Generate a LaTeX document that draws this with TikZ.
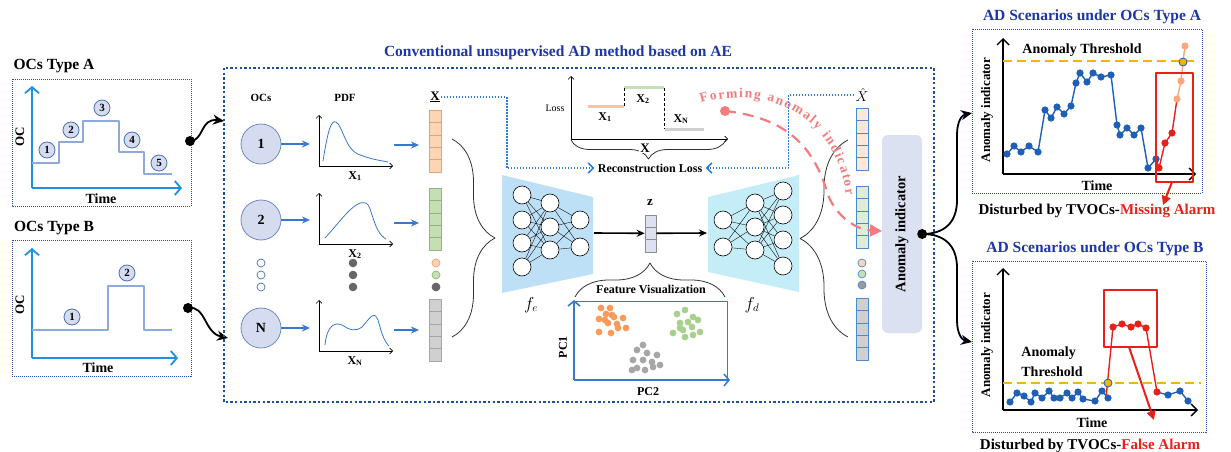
\documentclass[tikz,border=0pt]{standalone}
\usepackage{fontspec}
\setmainfont{Liberation Serif}
\usetikzlibrary{calc,positioning,decorations.pathreplacing,decorations.text,arrows.meta}
\definecolor{boxblue}{HTML}{1F4E9C}
\definecolor{ttlblue}{HTML}{1C36A8}
\definecolor{axblue}{HTML}{1E90E0}
\definecolor{stepblue}{HTML}{8EA9DB}
\definecolor{ocfill}{HTML}{D6DCF0}
\definecolor{ocline}{HTML}{4A6FB0}
\definecolor{arrblue}{HTML}{3A78D0}
\definecolor{dotblue}{HTML}{2C7BD8}
\definecolor{orfill}{HTML}{FCD5B5}
\definecolor{ordraw}{HTML}{E4A27A}
\definecolor{grfill}{HTML}{C5DFB4}
\definecolor{grdraw}{HTML}{93B57A}
\definecolor{gyfill}{HTML}{D0D0D0}
\definecolor{gydraw}{HTML}{A6A6A6}
\definecolor{encfill}{HTML}{BDE0F6}
\definecolor{decfill}{HTML}{C4EDF8}
\definecolor{zfill}{HTML}{DCE0F0}
\definecolor{aifill}{HTML}{DCE1F2}
\definecolor{salmon}{HTML}{F47C7C}
\definecolor{ptblue}{HTML}{1F5FB8}
\definecolor{ptred}{HTML}{E8201A}
\definecolor{ptpeach}{HTML}{F9A77F}
\definecolor{thryel}{HTML}{F5B400}
\definecolor{scor}{HTML}{F79A5A}
\definecolor{scgr}{HTML}{A9CF8E}
\definecolor{scgy}{HTML}{A6A6A6}
\definecolor{hatdraw}{HTML}{4A8AD0}
\newcommand{\fsz}[1]{\fontsize{#1}{#1}\selectfont}

\begin{document}
\begin{tikzpicture}[x=1pt,y=-1pt,line join=round,
    sidebox/.style={draw=boxblue,line width=0.9pt,dash pattern=on 1pt off 1pt},
    mainbox/.style={draw=boxblue,line width=2.4pt,dash pattern=on 2.4pt off 2.2pt},
    ocaxis/.style={draw=axblue,line width=1.8pt,-{Straight Barb[length=6pt,width=14pt]}},
    raxis/.style={draw=black,line width=1.4pt,-{Straight Barb[length=6pt,width=12pt]}},
    pdfax/.style={draw=black,line width=0.6pt,-{Straight Barb[length=3pt,width=6pt]}},
    stepline/.style={draw=stepblue,line width=2pt},
    ocnum/.style={circle,draw=ocline,fill=ocfill,line width=0.8pt,inner sep=0pt,minimum size=16pt,font=\fsz{11}\bfseries},
    occ/.style={circle,draw=ocline!80,fill=ocfill,line width=0.8pt,inner sep=0pt,minimum size=40pt,font=\fsz{14}\bfseries},
    smallc/.style={circle,draw=ocline,fill=white,line width=0.7pt,inner sep=0pt,minimum size=8pt},
    cell/.style={draw,line width=0.6pt,inner sep=0pt,minimum width=12pt,minimum height=12.4pt},
    neuron/.style={circle,draw=black,fill=white,line width=0.6pt,inner sep=0pt,minimum size=18pt},
    synapse/.style={draw=black,line width=0.35pt},
    bigbrace/.style={decorate,decoration={brace,amplitude=#1},draw=black!80,line width=0.8pt},
    bluearr/.style={draw=arrblue,line width=1.6pt,-{Stealth[length=8pt,width=7pt]}},
    blkarr/.style={draw=black,line width=1.6pt,-{Stealth[length=8pt,width=7pt]}},
    curvarr/.style={draw=black,line width=1.8pt,-{Stealth[length=11pt,width=10pt]}},
    recarrow/.style={draw=dotblue,line width=1.5pt,dash pattern=on 1.5pt off 1.5pt,-{Straight Barb[length=5pt,width=10pt]}},
    blob/.style={circle,fill=black,inner sep=0pt,minimum size=10pt},
    thr/.style={draw=thryel,line width=2pt,dash pattern=on 9pt off 5pt},
    ttl/.style={font=\fsz{15.5}\bfseries},
    rttl/.style={font=\fsz{15.5}\bfseries,text=ttlblue},
    lbl/.style={font=\fsz{14}\bfseries},
    hdr/.style={font=\fsz{11}\bfseries},
    xlab/.style={font=\fsz{12}\bfseries}]
    \useasboundingbox (0,0) rectangle (1231,452);

    % OCs Type A
    \node[ttl] (ttlA) at (54,66) {OCs Type A};
    \draw[sidebox] (12,79) rectangle (191,206);
    \coordinate (oA) at (32,188);
    \draw[ocaxis] (oA) -- (32,86);
    \draw[ocaxis] (oA) -- (182,188);
    \node[font=\fsz{13}\bfseries,rotate=90] at (20,137) {OC};
    \node[lbl] at (101,199) {Time};
    \draw[stepline] (32,163) -- (59,163) -- (59,142) -- (83,142) -- (83,121) -- (119,121)
        -- (119,152) -- (144,152) -- (144,174) -- (172,174);
    \foreach \n/\x/\y in {1/47/150,2/71/130,3/102/108,4/132/140,5/159/163}
        \node[ocnum] (a\n) at (\x,\y) {\n};
    \node[blob] (outA) at (190,141) {};

    % OCs Type B
    \node[ttl] (ttlB) at (54,228) {OCs Type B};
    \draw[sidebox] (12,240) rectangle (191,376);
    \coordinate (oB) at (32,358);
    \draw[ocaxis] (oB) -- (32,248);
    \draw[ocaxis] (oB) -- (178,358);
    \node[font=\fsz{13}\bfseries,rotate=90] at (20,305) {OC};
    \node[lbl] at (98,368) {Time};
    \draw[stepline] (32,330) -- (108,330) -- (108,286) -- (144,286) -- (144,330) -- (172,330);
    \node[ocnum] (b1) at (72,317) {1};
    \node[ocnum] (b2) at (127,273) {2};
    \node[blob] (outB) at (188,308) {};

    \coordinate (inA) at (224,121);
    \coordinate (inB) at (228,338);
    \draw[curvarr] (outA.center) .. controls (204,141) and (200,118) .. (inA);
    \draw[curvarr] (outB.center) .. controls (206,305) and (204,333) .. (inB);

    % AE block
    \draw[mainbox] (224,68) rectangle (934,402);
    \node[font=\fsz{15.5}\bfseries,text=ttlblue] (mttl) at (558,53)
        {Conventional unsupervised AD method based on AE};
    \node[hdr] at (261,98) {OCs};
    \node[hdr] at (345,98) {PDF};
    \node[font=\fsz{13}\bfseries,inner sep=1pt] (xlbl) at (435,97) {\underline{X}};

    \foreach \n/\y/\yp in {1/144/166,2/220/244,N/328/351} {
        \node[occ] (oc\n) at (261,\y) {\n};
        \coordinate (pin\n) at (310,\y);
        \draw[bluearr] (oc\n) -- (pin\n);
        \draw[pdfax] (319,\yp) -- (319,\yp-51);
        \draw[pdfax] (319,\yp) -- (393,\yp);
        \node[xlab] at (355,\yp+10) {X\textsubscript{\n}};
        \coordinate (pout\n) at (394,\yp-21);
        \coordinate (vin\n) at (419,\yp-21);
        \draw[bluearr] (pout\n) -- (vin\n);
    }
    \draw[arrblue,line width=0.8pt] (323,161) .. controls (328,130) and (331,120) .. (336,122)
        .. controls (343,126) and (345,150) .. (360,155) .. controls (372,159) .. (388,162);
    \draw[arrblue,line width=0.8pt] (325,238) .. controls (340,222) and (355,199) .. (366,203)
        .. controls (372,205) and (373,232) .. (386,239);
    \draw[arrblue,line width=0.8pt] (325,345) .. controls (327,325) and (335,322) .. (342,325)
        .. controls (350,330) and (355,332) .. (362,327) .. controls (370,318) and (374,310) .. (378,320)
        .. controls (381,330) and (383,340) .. (389,346);

    \foreach \y in {263,275,287} {
        \node[smallc] at (261,\y) {};
        \fill[black!60] (353,\y) circle (4.3pt);
    }
    \node[smallc,draw=ordraw,fill=orfill] at (436,263) {};
    \node[smallc,draw=grdraw,fill=grfill] at (436,275) {};
    \node[smallc,draw=black!60,fill=black!60] at (436,287) {};

    \foreach \i in {0,...,4} {
        \node[cell,draw=ordraw,fill=orfill] (v1\i) at (435,116.2+12.4*\i) {};
        \node[cell,draw=grdraw,fill=grfill] (v2\i) at (435,194.2+12.4*\i) {};
        \node[cell,draw=gydraw,fill=gyfill] (vN\i) at (435,305.2+12.4*\i) {};
        \node[cell,draw=hatdraw,fill=orfill!55] (h1\i) at (862,114.2+12.4*\i) {};
        \node[cell,draw=hatdraw,fill=grfill!55] (h2\i) at (862,192.2+12.4*\i) {};
        \node[cell,draw=hatdraw,fill=gyfill] (hN\i) at (862,304.2+12.4*\i) {};
    }
    \node[smallc,draw=hatdraw,fill=orfill] at (862,263) {};
    \node[smallc,draw=hatdraw,fill=grfill] at (862,274) {};
    \node[smallc,draw=hatdraw,fill=black!40] at (862,285) {};
    \node[font=\fsz{15},inner sep=1pt] (xhat) at (862,95) {$\hat{X}$};

    \draw[bigbrace=43pt] (452,139) -- (452,337);
    \draw[bigbrace=48pt] (848,337) -- (848,140);

    % encoder / decoder
    \fill[encfill] (502,175) -- (593,197) -- (593,274) -- (502,293) -- cycle;
    \fill[decfill] (708,197) -- (799,175) -- (799,292) -- (708,272) -- cycle;
    \foreach \y [count=\i] in {195,220,243,267} \node[neuron] (e1\i) at (522,\y) {};
    \foreach \y [count=\i] in {203,227,250} \node[neuron] (e2\i) at (550,\y) {};
    \foreach \y [count=\i] in {220,247} \node[neuron] (e3\i) at (580,\y) {};
    \foreach \y [count=\i] in {220,247} \node[neuron] (d1\i) at (723,\y) {};
    \foreach \y [count=\i] in {203,227,250} \node[neuron] (d2\i) at (755,\y) {};
    \foreach \y [count=\i] in {191,215,240,266} \node[neuron] (d3\i) at (783,\y) {};
    \foreach \a in {1,...,4} \foreach \b in {1,...,3} \draw[synapse] (e1\a) -- (e2\b);
    \foreach \a in {1,...,3} \foreach \b in {1,2} \draw[synapse] (e2\a) -- (e3\b);
    \foreach \a in {1,2} \foreach \b in {1,...,3} \draw[synapse] (d1\a) -- (d2\b);
    \foreach \a in {1,...,3} \foreach \b in {1,...,4} \draw[synapse] (d2\a) -- (d3\b);
    \node[font=\fsz{16}] at (531,305) {$f_e$};
    \node[font=\fsz{16}] at (752,305) {$f_d$};

    \foreach \i in {0,1,2}
        \node[cell,draw=black!45,fill=zfill,minimum width=11pt] (z\i) at (650.5,221+12.3*\i) {};
    \node[font=\fsz{13}\bfseries] at (650,203) {z};
    \coordinate (encout) at (594,233);
    \coordinate (decin) at (707,233);
    \draw[blkarr] (encout) -- (z1.west);
    \draw[blkarr] (z1.east) -- (decin);

    % feature visualization
    \draw[bigbrace=34pt] (575,297) -- (725,297);
    \node[xlab] (fv) at (651,289) {Feature Visualization};
    \draw[arrblue,line width=0.9pt] (574,301) -- (727,301) -- (727,378);
    \draw[draw=arrblue,line width=1.6pt,-{Straight Barb[length=5pt,width=12pt]}] (574,380) -- (574,300);
    \draw[draw=arrblue,line width=1.6pt,-{Straight Barb[length=5pt,width=12pt]}] (574,380) -- (730,380);
    \node[xlab,rotate=90] at (563,347) {PC1};
    \node[xlab] at (648,392) {PC2};
    \foreach \x/\y in {601/308,610/308,606/314,599/319,614/317,623/318,608/323,617/324,626/328,599/332,611/333,618/328,605/320,612/315}
        \fill[scor] (\x,\y) circle (3.4pt);
    \foreach \x/\y in {677/314,685/310,693/317,680/323,688/322,698/320,673/333,683/330,692/327,700/332,685/337,693/335,680/328}
        \fill[scgr] (\x,\y) circle (3.4pt);
    \foreach \x/\y in {643/345,637/350,647/353,657/355,633/360,643/360,652/362,660/365,637/368,645/370,653/367,632/370}
        \fill[scgy] (\x,\y) circle (3.4pt);

    % reconstruction loss
    \node[font=\fsz{10}] at (555,108) {Loss};
    \draw[pdfax] (571,139) -- (571,76);
    \draw[pdfax] (571,139) -- (728,139);
    \draw[orfill!90!red,line width=3pt] (588,106) -- (624,106);
    \draw[grfill,line width=3pt] (624,87) -- (664,87);
    \draw[gyfill,line width=3pt] (665,129) -- (704,129);
    \draw[densely dashed,line width=0.5pt] (624,88) -- (624,106);
    \draw[densely dashed,line width=0.5pt] (664,88) -- (664,129);
    \node[xlab] at (605,117) {X\textsubscript{1}};
    \node[xlab] at (643,99) {X\textsubscript{2}};
    \node[xlab] at (681,119) {X\textsubscript{N}};
    \draw[bigbrace=19pt] (726,140) -- (571,140);
    \node[font=\fsz{13}\bfseries,fill=white,inner sep=1pt] at (645,148) {X};
    \node[xlab] (recon) at (650,168) {Reconstruction Loss};
    \draw[recarrow] (xlbl.east) -- ++(66,0) |- (recon.west);
    \draw[recarrow] (xhat.west) -- ++(-66,0) |- (recon.east);

    % forming anomaly indicator
    \path[decorate,decoration={text along path,text color=salmon,text align={fit to path},
        text={|\fsz{13.5}\bfseries|Forming anomaly indicator}}]
        (701,103) .. controls (768,84) and (836,116) .. (846,195);
    \node[circle,fill=salmon,inner sep=0pt,minimum size=10pt] (fdot) at (725,111) {};
    \coordinate (ftip) at (882,231);
    \draw[salmon,line width=2.2pt,dash pattern=on 11pt off 7pt,-{Triangle[length=12pt,width=12pt]}]
        (fdot.center) .. controls (790,118) and (815,150) .. (828,195)
        .. controls (838,220) and (860,230) .. (ftip);

    % anomaly indicator
    \node[rounded corners=6pt,fill=aifill,rotate=90,minimum width=198pt,minimum height=40pt,
        font=\fsz{14.5}\bfseries] (ai) at (902,234) {Anomaly indicator};
    \node[blob] (aidot) at (ai.south) {};
    \coordinate (toA) at (972,113);
    \coordinate (toB) at (972,342);
    \draw[curvarr] (aidot.center) .. controls (945,234) and (957,222) .. (957,200) -- (957,135)
        .. controls (957,121) and (962,115) .. (toA);
    \draw[curvarr] (aidot.center) .. controls (945,234) and (957,246) .. (957,268) -- (957,320)
        .. controls (957,334) and (962,340) .. (toB);

    % AD scenario A
    \node[rttl] at (1092,17) {AD Scenarios under OCs Type A};
    \draw[sidebox] (972,29) rectangle (1202,193);
    \coordinate (oRA) at (1003,174);
    \draw[raxis] (oRA) -- (1003,38);
    \draw[raxis] (oRA) -- (1196,174);
    \draw[thr] (1003,61) -- (1199,61);
    \node[font=\fsz{13}\bfseries,rotate=90] at (987,110) {Anomaly indicator};
    \node[font=\fsz{14}\bfseries] at (1082,50) {Anomaly Threshold};
    \node[lbl] at (1097,186) {Time};
    \node[font=\fsz{15}\bfseries] at (1097,211) {Disturbed by TVOCs-\textcolor{ptred}{Missing Alarm}};
    \draw[ptblue,line width=1.4pt] plot coordinates {(1007,154) (1014,146) (1021,152) (1029,146)
        (1038,152) (1045,110) (1051,118) (1057,107) (1064,114) (1071,106) (1076,83) (1080,73)
        (1087,82) (1093,73) (1101,77) (1111,75) (1117,125) (1120,135) (1127,128) (1134,135)
        (1141,128) (1148,168) (1156,159)};
    \draw[ptred,line width=1.4pt] plot coordinates {(1156,159) (1159,168) (1165,143) (1172,133) (1177,99)};
    \draw[ptpeach,line width=1.4pt] plot coordinates {(1177,99) (1181,81) (1183,62) (1185,46)};
    \foreach \x/\y in {1007/154,1014/146,1021/152,1029/146,1038/152,1045/110,1051/118,1057/107,
        1064/114,1071/106,1076/83,1080/73,1087/82,1093/73,1101/77,1111/75,1117/125,1120/135,
        1127/128,1134/135,1141/128,1148/168,1156/159}
        \fill[ptblue] (\x,\y) circle (3.6pt);
    \foreach \x/\y in {1159/168,1165/143,1172/133} \fill[ptred] (\x,\y) circle (3.6pt);
    \foreach \x/\y in {1177/99,1181/81,1185/46} \fill[ptpeach] (\x,\y) circle (3.6pt);
    \filldraw[fill=thryel,draw=ptblue,line width=0.8pt] (1183,62) circle (4pt);
    \draw[ptred,line width=1.2pt] (1156,73) rectangle (1193,182);
    \draw[ptred,line width=2pt,-{Triangle[length=9pt,width=9pt]}] (1172,182) -- (1163,205);

    % AD scenario B
    \node[rttl] at (1095,249) {AD Scenarios under OCs Type B};
    \draw[sidebox] (972,261) rectangle (1206,432);
    \coordinate (oRB) at (1003,410);
    \draw[raxis] (oRB) -- (1003,268);
    \draw[raxis] (oRB) -- (1198,410);
    \draw[thr] (1003,383) -- (1201,383);
    \node[font=\fsz{13}\bfseries,rotate=90] at (987,345) {Anomaly indicator};
    \node[font=\fsz{14}\bfseries,align=left] at (1052,362) {Anomaly\\[6pt]Threshold};
    \node[lbl] at (1092,423) {Time};
    \node[font=\fsz{15}\bfseries] at (1090,446) {Disturbed by TVOCs-\textcolor{ptred}{False Alarm}};
    \draw[ptblue,line width=1.4pt] plot coordinates {(1010,402) (1017,393) (1024,396) (1031,402)
        (1035,393) (1042,398) (1049,391) (1054,398) (1060,398) (1067,393) (1072,398) (1078,392)
        (1083,399) (1095,401) (1102,391) (1108,398)};
    \draw[ptred,line width=1.4pt] plot coordinates {(1106,398) (1113,327) (1122,324) (1131,327)
        (1138,324) (1146,328) (1157,392)};
    \draw[ptblue,line width=1.4pt] plot coordinates {(1157,392) (1168,395) (1180,391) (1188,401)};
    \foreach \x/\y in {1010/402,1017/393,1024/396,1031/402,1035/393,1042/398,1049/391,1054/398,
        1060/398,1067/393,1072/398,1078/392,1083/399,1095/401,1102/391,1108/398,1168/395,1180/391,1188/401}
        \fill[ptblue] (\x,\y) circle (3.6pt);
    \foreach \x/\y in {1113/327,1122/324,1131/327,1138/324,1146/328,1157/392} \fill[ptred] (\x,\y) circle (3.6pt);
    \filldraw[fill=thryel,draw=ptblue,line width=0.8pt] (1108,383) circle (4pt);
    \draw[ptred,line width=1.2pt] (1104,290) rectangle (1157,347);
    \draw[ptred,line width=2pt,-{Triangle[length=9pt,width=9pt]}] (1129,347) -- (1154,420);
\end{tikzpicture}
\end{document}
